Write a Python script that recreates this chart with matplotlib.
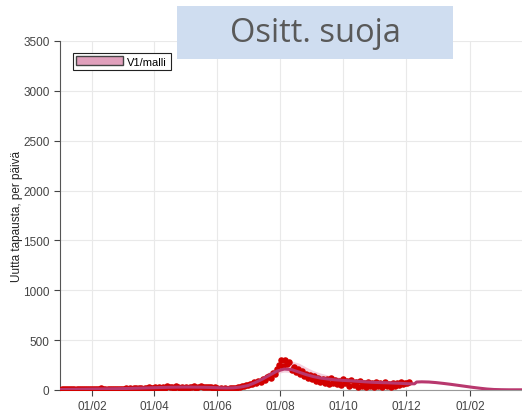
import numpy as np
import pandas as pd
import matplotlib
matplotlib.use("Agg")
import matplotlib.pyplot as plt
import matplotlib.dates as mdates
from matplotlib.patches import Patch, Rectangle

plt.rcParams["font.family"] = ["Liberation Sans", "DejaVu Sans"]

START = pd.Timestamp("2020-01-01")

# observed daily cases, every 2nd day from 2020-01-01
obs_values = [
    2, 8, 12, 6, 10, 14, 8, 12, 10, 6, 14, 9, 11, 7, 12, 10,
    12, 8, 14, 10, 16, 9, 13, 11, 15, 8, 12, 14, 10, 13,
    15, 11, 18, 12, 20, 14, 22, 16, 19, 25, 15, 21, 18, 26, 17, 22,
    28, 20, 35, 24, 30, 22, 38, 26, 32, 24, 36, 28, 25, 33, 22,
    30, 24, 35, 27, 38, 25, 32, 40, 28, 35, 30, 26, 34, 22, 30,
    20, 15, 22, 12, 18, 14, 20, 16, 25, 18, 30, 35, 45, 40, 55,
    50, 65, 60, 80, 70, 95, 85, 110, 100, 130, 140, 120, 170, 160, 210, 250,
    300, 240, 300, 260, 280, 200, 230, 180, 210, 160, 190, 140, 165, 120, 150,
    110, 140, 90, 125, 80, 115, 70, 110, 65, 120, 75, 105, 60, 95, 55,
    110, 70, 95, 40, 100, 55, 80, 35, 90, 45, 75, 30, 85, 40, 70, 35,
    80, 40, 70, 35, 85, 45, 65, 30, 75, 40, 70, 50, 80, 60, 75,
    70, 80,
]
obs_step = 2

# model curve (days since 2020-01-01)
model_days = [0, 7, 14, 21, 28, 35, 42, 49, 56, 63, 70, 77, 84, 91, 98, 105,
              112, 119, 126, 133, 140, 147, 154, 161, 168, 175, 182, 189, 196,
              203, 210, 217, 224, 231, 238, 245, 252, 259, 266, 273, 280, 287,
              294, 301, 308, 315, 322, 329, 336, 343, 345, 350, 357, 364, 371,
              378, 385, 392, 399, 406, 413, 420, 427, 434, 441, 446]
model_mid = [5, 6, 7, 8, 9, 10, 11, 12, 13, 15, 17, 19, 21, 23, 25, 27,
             28, 29, 29, 28, 27, 25, 22, 20, 22, 30, 45, 75, 110,
             150, 190, 210, 205, 180, 155, 135, 120, 110, 102, 97, 93, 88,
             83, 78, 75, 73, 70, 67, 63, 62, 80, 82, 80, 74, 66,
             57, 47, 37, 27, 18, 10, 5, 3, 2, 2, 2]
model_hi = [8, 9, 10, 11, 12, 14, 15, 16, 17, 20, 22, 24, 27, 30, 32, 34,
            36, 37, 37, 36, 35, 32, 29, 27, 30, 40, 60, 95, 140,
            190, 240, 275, 290, 270, 230, 195, 170, 150, 135, 125, 118, 110,
            103, 96, 92, 88, 85, 82, 76, 72, 88, 88, 85, 78, 70,
            60, 50, 40, 30, 20, 12, 7, 5, 4, 4, 4]
model_lo = [3, 4, 5, 6, 7, 7, 8, 9, 10, 11, 13, 15, 17, 18, 20, 22,
            23, 24, 24, 23, 22, 20, 18, 16, 18, 24, 36, 62, 95,
            130, 165, 180, 175, 155, 135, 118, 105, 96, 90, 85, 82, 77,
            73, 69, 66, 64, 62, 59, 56, 55, 74, 77, 75, 70, 62,
            53, 44, 34, 24, 16, 8, 3, 1, 0, 0, 0]

y_ticks = [0, 500, 1000, 1500, 2000, 2500, 3000, 3500]
x_tick_dates = ["2020-02-01", "2020-04-01", "2020-06-01", "2020-08-01",
                "2020-10-01", "2020-12-01", "2021-02-01"]

obs_dates = START + pd.to_timedelta(np.arange(len(obs_values)) * obs_step, unit="D")
model_dates = START + pd.to_timedelta(model_days, unit="D")

fig = plt.figure(figsize=(5.22, 4.14), dpi=100)
ax = fig.add_axes([60 / 522, 1 - 391 / 414, 1 - 60 / 522, (391 - 42) / 414])

ax.fill_between(model_dates, model_lo, model_hi, color="#f2c6d8", alpha=0.8,
                linewidth=0, zorder=2)
ax.scatter(obs_dates, obs_values, s=22, color="#d20000", zorder=3, linewidths=0)
ax.plot(model_dates, model_mid, color="#b8386e", linewidth=2.2, zorder=4)

ax.set_xlim(START, pd.Timestamp("2021-03-23"))
ax.set_ylim(0, 3500)
ax.set_yticks(y_ticks)
ax.set_xticks(pd.to_datetime(x_tick_dates))
ax.xaxis.set_major_formatter(mdates.DateFormatter("%d/%m"))
ax.tick_params(labelsize=8.5, colors="#444444", length=4, width=0.8)
ax.grid(True, color="#e9e9e9", linewidth=0.8)
ax.set_axisbelow(True)
for side in ["top", "right"]:
    ax.spines[side].set_visible(False)
ax.spines["left"].set_color("#555555")
ax.spines["bottom"].set_color("#999999")
ax.set_ylabel("Uutta tapausta, per päivä", fontsize=8.5, color="#222222")
ax.yaxis.set_label_coords(-37 / 462, 0.5)

leg = ax.legend(handles=[Patch(facecolor="#e0a0bc", edgecolor="#444444", label="V1/malli")],
                loc="upper left", bbox_to_anchor=(13 / 462, 0.966), borderaxespad=0,
                fontsize=8, handlelength=4.2, handleheight=0.9, handletextpad=0.4,
                borderpad=0.3, fancybox=False, edgecolor="#222222", framealpha=1)
leg.get_frame().set_linewidth(0.8)

# title banner
fig.patches.append(Rectangle((177 / 522, 1 - 60 / 414), 276 / 522, 53 / 414,
                             transform=fig.transFigure, facecolor="#cfddf0",
                             edgecolor="none", zorder=5))
fig.text(315 / 522, 1 - 34 / 414, "Ositt. suoja", fontsize=23.5, color="#595959",
         family=["Open Sans", "DejaVu Sans"], ha="center", va="center", zorder=6)

fig.savefig("out.png", dpi=100)
